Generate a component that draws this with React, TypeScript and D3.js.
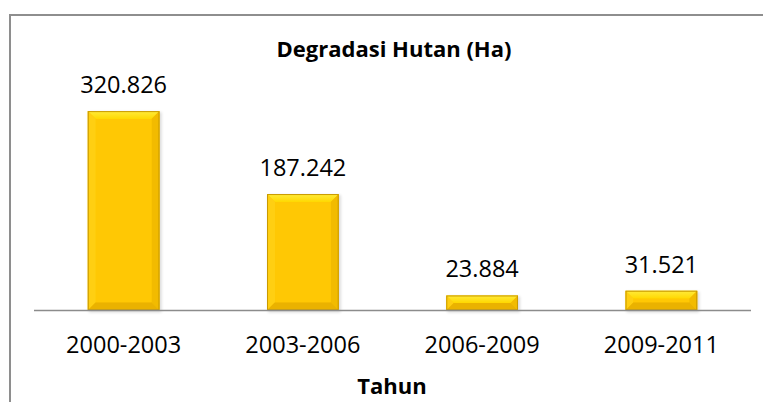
import React from "react";
import * as d3 from "d3";

// data
const periods = ["2000-2003", "2003-2006", "2006-2009", "2009-2011"];
const degradasi = [320.826, 187.242, 23.884, 31.521];
const valueLabels = ["320.826", "187.242", "23.884", "31.521"];

const W = 763;
const H = 402;
const FONT = "'Open Sans', 'Noto Sans', sans-serif";

const x = d3.scaleBand<string>()
    .domain(periods)
    .range([34, 751])
    .paddingInner(0.6)
    .paddingOuter(0.3);

const y = d3.scaleLinear()
    .domain([0, 350])
    .range([310.3, 93]);

const Bar = ({ x0, y0, w, h }: { x0: number; y0: number; w: number; h: number }) => {
    const b = Math.min(8, h / 2, w / 2);
    const x1 = x0 + w;
    const y1 = y0 + h;
    return (
        <g>
            <rect x={x0 + 1} y={y0 + 1} width={w + 1} height={h + 1} fill="#000" opacity={0.15} filter="url(#shadow)" />
            <rect x={x0} y={y0} width={w} height={h} fill="#FFC800" />
            {/* top bevel */}
            <polygon points={`${x0},${y0} ${x1},${y0} ${x1 - b},${y0 + b} ${x0 + b},${y0 + b}`} fill="url(#bevTop)" />
            {/* left bevel */}
            <polygon points={`${x0},${y0} ${x0 + b},${y0 + b} ${x0 + b},${y1 - b} ${x0},${y1}`} fill="#FFCF12" />
            {/* right bevel */}
            <polygon points={`${x1},${y0} ${x1},${y1} ${x1 - b},${y1 - b} ${x1 - b},${y0 + b}`} fill="#F2BB00" />
            {/* bottom bevel */}
            <polygon points={`${x0},${y1} ${x0 + b},${y1 - b} ${x1 - b},${y1 - b} ${x1},${y1}`} fill="#EAB200" />
            <rect x={x0 + b} y={y0 + b} width={Math.max(0, w - 2 * b)} height={Math.max(0, h - 2 * b)} fill="#FFC804" />
            <rect x={x0 + 0.5} y={y0 + 0.5} width={w - 1} height={h - 1} fill="none" stroke="#C99A00" strokeWidth={1} />
        </g>
    );
};

const App = () => {
    return (
        <svg width={W} height={H} style={{ position: "fixed", left: 0, top: 0, background: "#fff" }}>
            <defs>
                <linearGradient id="bevTop" x1="0" y1="0" x2="0" y2="1">
                    <stop offset="0%" stopColor="#FFEB3B" />
                    <stop offset="100%" stopColor="#FFD800" />
                </linearGradient>
                <filter id="shadow" x="-20%" y="-20%" width="140%" height="140%">
                    <feGaussianBlur stdDeviation="1.5" />
                </filter>
            </defs>
            <rect x={10} y={15} width={W + 20} height={H + 20} fill="#fff" stroke="#8e8e8e" strokeWidth={2} />

            <text x={394} y={57} textAnchor="middle" fontFamily={FONT} fontWeight="bold" fontSize={22} fill="#000">
                Degradasi Hutan (Ha)
            </text>

            {periods.map((p, i) => {
                const x0 = x(p)!;
                const top = y(degradasi[i]);
                return (
                    <Bar key={p} x0={x0} y0={top} w={x.bandwidth()} h={y(0) - top} />
                );
            })}

            <line x1={34} x2={751} y1={310.5} y2={310.5} stroke="#8c8c8c" strokeWidth={1.5} />

            {periods.map((p, i) => (
                <text key={"v" + p} x={x(p)! + x.bandwidth() / 2} y={y(degradasi[i]) - 18}
                    textAnchor="middle" fontFamily={FONT} fontSize={23.5} fill="#000">
                    {valueLabels[i]}
                </text>
            ))}

            {periods.map(p => (
                <text key={"c" + p} x={x(p)! + x.bandwidth() / 2} y={353}
                    textAnchor="middle" fontFamily={FONT} fontSize={23.5} fill="#000">
                    {p}
                </text>
            ))}

            <text x={392} y={394} textAnchor="middle" fontFamily={FONT} fontWeight="bold" fontSize={22} fill="#000">
                Tahun
            </text>
        </svg>
    );
};

export default App;
